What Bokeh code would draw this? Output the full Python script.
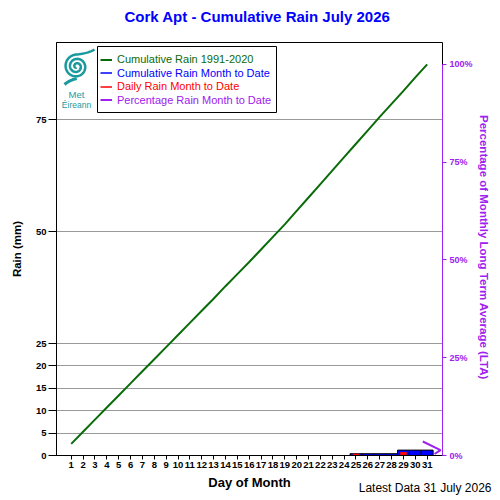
import numpy as np
from bokeh.plotting import figure
from bokeh.models import (Range1d, LinearAxis, FixedTicker, Label, Legend, LegendItem,
                          BoxAnnotation, PrintfTickFormatter, Title)
from bokeh.embed import file_html
from bokeh.resources import INLINE

# ---------------- data ----------------
days = list(range(1, 32))
day_ticks = list(range(1, 32))
lta_cumulative = [2.6, 5.3, 8.0, 10.7, 13.4, 16.1, 18.8, 21.5, 24.2, 26.9,
                  29.6, 32.3, 35.0, 37.8, 40.5, 43.2, 46.0, 48.8, 51.6, 54.6,
                  57.6, 60.6, 63.6, 66.6, 69.6, 72.6, 75.6, 78.5, 81.4, 84.4, 87.3]
daily_rain = [0.0, 0.0, 0.0, 0.0, 0.0, 0.0, 0.0, 0.0, 0.0, 0.0,
              0.0, 0.0, 0.0, 0.0, 0.0, 0.0, 0.0, 0.0, 0.0, 0.0,
              0.0, 0.0, 0.0, 0.0, 0.4, 0.0, 0.0, 0.0, 0.8, 0.0, 0.0]
cumulative_mtd = list(np.cumsum(daily_rain))
rain_ticks = [0, 5, 10, 15, 20, 25, 50, 75]
pct_ticks = [0, 25, 50, 75, 100]

lta_total = lta_cumulative[-1]
pct_to_date = cumulative_mtd[-1] / lta_total * 100.0

title_text = "Cork Apt - Cumulative Rain July   2026"
latest_text = "Latest Data 31 July 2026"

GREEN = "#0a6b0a"
BLUE = "#0000ff"
RED = "#ff0000"
PURPLE = "#a020f0"
TEAL = "#1a9a9e"
FONT = "Liberation Sans"

# ---------------- figure ----------------
FW, FH = 386, 413
x0, x1 = -0.24, 32.29
y0, y1 = 0.0, 92.2
p = figure(frame_width=FW, frame_height=FH,
           x_range=Range1d(x0, x1), y_range=Range1d(y0, y1),
           output_backend="svg", toolbar_location=None,
           min_border_left=56, min_border_right=50, min_border_top=42, min_border_bottom=43,
           background_fill_color="white", border_fill_color="white")
p.outline_line_color = "black"
p.outline_line_width = 1
p.extra_y_ranges = {"pct": Range1d(0, y1 / lta_total * 100.0)}

# title (spacer first, then the main title outside it)
try:
    p.title = None
except Exception:
    p.title.text = ""
p.add_layout(Title(text=" ", text_font_size="1px", standoff=12), "above")
p.add_layout(Title(text=title_text, align="left", offset=68, text_font=FONT,
                   text_font_size="15px", text_font_style="bold", text_color=BLUE,
                   standoff=6), "above")

# helpers to convert page pixel positions (decorations) into data coords
FL, FT = 57, 43
def px2x(px):
    return x0 + (px - FL) / FW * (x1 - x0)
def py2y(py):
    return y1 - (py - FT) / FH * (y1 - y0)

# axes
p.xaxis.ticker = FixedTicker(ticks=day_ticks)
p.xaxis.axis_label = "Day of Month"
p.yaxis.ticker = FixedTicker(ticks=rain_ticks)
p.yaxis.axis_label = "Rain (mm)"
for ax in (p.xaxis[0], p.yaxis[0]):
    ax.axis_label_text_font = FONT
    ax.axis_label_text_font_style = "bold"
    ax.axis_label_text_color = "black"
    ax.major_label_text_font = FONT
    ax.major_label_text_font_style = "bold"
    ax.major_label_text_color = "black"
    ax.minor_tick_line_color = None
    ax.major_tick_in = 0
    ax.axis_line_color = "black"
    ax.major_tick_line_color = "black"
p.xaxis.axis_label_text_font_size = "13px"
p.xaxis.major_label_text_font_size = "9.5px"
p.xaxis.major_tick_out = 4
p.xaxis.major_label_standoff = 2
p.xaxis.axis_label_standoff = 4
p.yaxis.axis_label_text_font_size = "11.5px"
p.yaxis.major_label_text_font_size = "9.5px"
p.yaxis.major_tick_out = 8
p.yaxis.major_label_standoff = 2
p.yaxis.axis_label_standoff = 10

raxis = LinearAxis(y_range_name="pct", ticker=FixedTicker(ticks=pct_ticks),
                   formatter=PrintfTickFormatter(format="%d%%"),
                   axis_label="Percentage  of Monthly Long Term Average (LTA)",
                   bounds=(0, 100))
raxis.axis_line_color = PURPLE
raxis.major_tick_line_color = PURPLE
raxis.major_label_text_color = PURPLE
raxis.axis_label_text_color = PURPLE
raxis.axis_label_text_font = FONT
raxis.axis_label_text_font_style = "bold"
raxis.axis_label_text_font_size = "11.5px"
raxis.major_label_text_font = FONT
raxis.major_label_text_font_style = "bold"
raxis.major_label_text_font_size = "9px"
raxis.minor_tick_line_color = None
raxis.major_tick_in = 0
raxis.major_tick_out = 4
raxis.major_label_standoff = 3
raxis.axis_label_standoff = 2
p.add_layout(raxis, "right")

# footer
footer = Title(text=latest_text, align="right", vertical_align="top",
               text_font=FONT, text_font_size="12px",
               text_font_style="normal", text_color="black", standoff=-24, offset=-49)
p.add_layout(footer, "below")

p.xgrid.grid_line_color = None
p.ygrid.ticker = FixedTicker(ticks=rain_ticks)
p.ygrid.grid_line_color = "#999999"
p.ygrid.grid_line_width = 1

# ---------------- glyphs ----------------
p.vbar(x=days, top=cumulative_mtd, width=1.0, fill_color=BLUE,
       line_color="black", line_width=1)
p.vbar(x=days, top=daily_rain, width=0.55, fill_color=RED, line_color=None)
r_green = p.line(days, lta_cumulative, line_color=GREEN, line_width=2)

# percentage month-to-date arrow pointing at the right axis
arrow_xs = [x1 - 1.66, x1 - 0.17, x1 - 0.67]
arrow_ys = [pct_to_date + 2.2, pct_to_date, pct_to_date - 1.0]
r_purple = p.line(arrow_xs, arrow_ys, y_range_name="pct", line_color=PURPLE, line_width=2)

# legend sample renderers (kept outside the visible range)
r_blue = p.line([x0 - 5, x0 - 4], [-5, -5], line_color=BLUE, line_width=1.5)
r_red = p.line([x0 - 5, x0 - 4], [-5, -5], line_color=RED, line_width=1.5)

# ---------------- legend ----------------
legend_rows = [("Cumulative Rain 1991-2020", r_green, GREEN),
               ("Cumulative Rain Month to Date", r_blue, BLUE),
               ("Daily Rain Month to Date", r_red, RED),
               ("Percentage Rain Month to Date", r_purple, PURPLE)]
row_y = 389.5
for label, rend, col in legend_rows:
    lg = Legend(items=[LegendItem(label=label, renderers=[rend])],
                location=(44, row_y), orientation="vertical",
                padding=0, margin=0, spacing=0,
                glyph_width=12, glyph_height=13, label_height=13,
                label_standoff=5,
                label_text_font=FONT, label_text_font_size="11px",
                label_text_color=col,
                border_line_alpha=0, background_fill_alpha=0)
    p.add_layout(lg)
    row_y -= 13.5
p.add_layout(BoxAnnotation(left=41, right=220, top=409, bottom=343,
                           left_units="screen", right_units="screen",
                           top_units="screen", bottom_units="screen",
                           fill_color=None, fill_alpha=0,
                           line_color="black", line_width=1, line_alpha=1))

# ---------------- logo (Met Éireann swirl) ----------------
th = np.linspace(-1.5 * np.pi, 3.5 * np.pi, 220)
rr = 1.0 + 11.0 * (th - th[0]) / (th[-1] - th[0])
sx = list(77 + rr * np.cos(th))
sy = list(67 + rr * np.sin(th))
tt = np.linspace(0, 1, 20)[1:]
sx += list((1 - tt) ** 2 * sx[-1] + 2 * (1 - tt) * tt * 88 + tt ** 2 * 95)
sy += list((1 - tt) ** 2 * sy[-1] + 2 * (1 - tt) * tt * 54 + tt ** 2 * 50)
p.line([px2x(v) for v in sx], [py2y(v) for v in sy], line_color=TEAL, line_width=2.5)
tx = (1 - tt) ** 2 * 78 + 2 * (1 - tt) * tt * 71 + tt ** 2 * 65
ty = (1 - tt) ** 2 * 79 + 2 * (1 - tt) * tt * 80 + tt ** 2 * 85
p.line([px2x(v) for v in tx], [py2y(v) for v in ty], line_color=TEAL, line_width=3)
p.add_layout(Label(x=77 - FL, y=FH - (95 - FT), x_units="screen", y_units="screen",
                   text="Met", text_align="center", text_baseline="middle",
                   text_font=FONT, text_font_size="9.5px", text_color=TEAL))
p.add_layout(Label(x=77 - FL, y=FH - (105 - FT), x_units="screen", y_units="screen",
                   text="Éireann", text_align="center", text_baseline="middle",
                   text_font=FONT, text_font_size="8.5px", text_color=TEAL))

open("out.html", "w").write(file_html(p, INLINE))
